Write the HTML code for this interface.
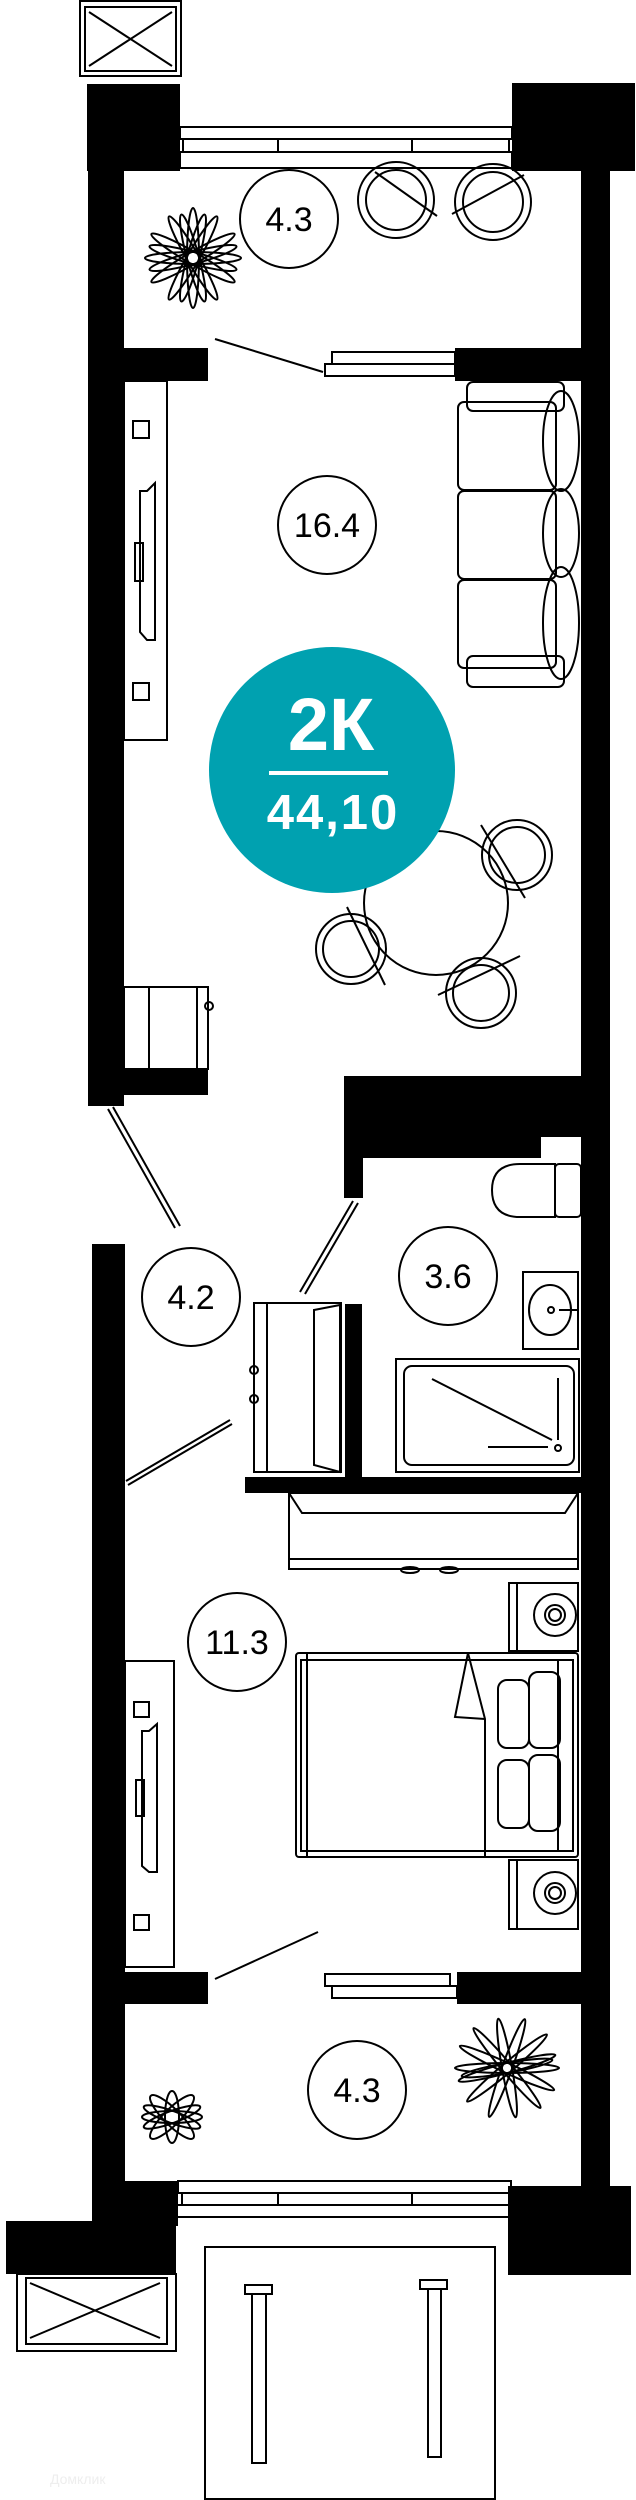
<!DOCTYPE html>
<html><head><meta charset="utf-8"><style>
html,body{margin:0;padding:0;background:#fff;}
svg{display:block;}
</style></head><body>
<svg width="636" height="2500" viewBox="0 0 636 2500" xmlns="http://www.w3.org/2000/svg">
<g fill="#000">
<rect x="87" y="84" width="93" height="87"/>
<rect x="88" y="84" width="36" height="1022"/>
<rect x="124" y="1069" width="84" height="26"/>
<rect x="512" y="83" width="123" height="88"/>
<rect x="581" y="83" width="29" height="2103"/>
<rect x="124" y="348" width="84" height="33"/>
<rect x="455" y="348" width="126" height="33"/>
<rect x="344" y="1076" width="237" height="61"/>
<rect x="344" y="1137" width="197" height="21"/>
<rect x="344" y="1158" width="19" height="40"/>
<rect x="345" y="1304" width="17" height="173"/>
<rect x="245" y="1477" width="336" height="16"/>
<rect x="92" y="1244" width="33" height="977"/>
<rect x="125" y="1972" width="83" height="32"/>
<rect x="457" y="1972" width="125" height="32"/>
<rect x="95" y="2181" width="83" height="45"/>
<rect x="6" y="2221" width="170" height="53"/>
<rect x="508" y="2186" width="123" height="89"/>
</g>
<g fill="none" stroke="#000" stroke-width="2">
<rect x="80" y="1" width="101" height="75"/>
<rect x="85" y="7" width="91" height="64"/>
<line x1="89" y1="12" x2="172" y2="66"/><line x1="172" y1="12" x2="89" y2="66"/>
<rect x="180" y="127" width="332" height="12"/>
<rect x="183" y="139" width="326" height="13"/>
<rect x="180" y="152" width="332" height="16"/>
<line x1="278" y1="139" x2="278" y2="152"/><line x1="412" y1="139" x2="412" y2="152"/>
<rect x="332" y="352" width="123" height="12"/>
<rect x="325" y="364" width="130" height="12"/>
<line x1="215" y1="339" x2="323" y2="372"/>
<circle cx="289" cy="219" r="49"/>
<circle cx="396" cy="200" r="38"/><circle cx="396" cy="200" r="30"/>
<line x1="375" y1="172" x2="437" y2="216"/>
<circle cx="493" cy="202" r="38"/><circle cx="493" cy="202" r="30"/>
<line x1="452" y1="214" x2="524" y2="175"/>
<g transform="translate(193,258)">
<ellipse rx="48" ry="6"/><ellipse rx="48" ry="6" transform="rotate(30)"/><ellipse rx="48" ry="6" transform="rotate(60)"/><ellipse rx="50" ry="6" transform="rotate(90)"/><ellipse rx="48" ry="6" transform="rotate(120)"/><ellipse rx="48" ry="6" transform="rotate(150)"/><ellipse rx="45" ry="6" transform="rotate(15)"/><ellipse rx="45" ry="6" transform="rotate(-15)"/><ellipse rx="45" ry="6" transform="rotate(75)"/><ellipse rx="45" ry="6" transform="rotate(105)"/>
</g>
<rect x="124" y="381" width="43" height="359"/>
<rect x="133" y="421" width="16" height="17"/>
<rect x="133" y="683" width="16" height="17"/>
<path d="M147 491 L155 483 L155 640 L147 640 L140 632 L140 491 Z"/>
<rect x="135" y="543" width="8" height="38"/>
<circle cx="327" cy="525" r="49"/>
<rect x="467" y="382" width="97" height="29" rx="6"/>
<rect x="467" y="656" width="97" height="31" rx="6"/>
<rect x="458" y="402" width="98" height="88" rx="6"/>
<rect x="458" y="491" width="98" height="88" rx="6"/>
<rect x="458" y="580" width="98" height="88" rx="6"/>
<ellipse cx="561" cy="441" rx="18" ry="50"/>
<ellipse cx="561" cy="533" rx="18" ry="44"/>
<ellipse cx="561" cy="623" rx="18" ry="56"/>
<circle cx="436" cy="903" r="72"/>
<circle cx="517" cy="855" r="35"/><circle cx="517" cy="855" r="28"/>
<line x1="481" y1="825" x2="525" y2="898"/>
<circle cx="351" cy="949" r="35"/><circle cx="351" cy="949" r="28"/>
<line x1="347" y1="907" x2="385" y2="985"/>
<circle cx="481" cy="993" r="35"/><circle cx="481" cy="993" r="28"/>
<line x1="438" y1="995" x2="520" y2="956"/>
<rect x="124" y="987" width="84" height="82"/>
<line x1="149" y1="987" x2="149" y2="1069"/><line x1="197" y1="987" x2="197" y2="1069"/>
<circle cx="209" cy="1006" r="4"/>
<line x1="108" y1="1109" x2="175" y2="1228"/><line x1="113" y1="1107" x2="180" y2="1226"/>
<circle cx="191" cy="1297" r="49"/>
<line x1="353" y1="1201" x2="300" y2="1292"/><line x1="358" y1="1203" x2="305" y2="1294"/>
<path d="M555 1164 L520 1164 Q492 1164 492 1190 Q492 1217 520 1217 L555 1217 Z"/>
<rect x="555" y="1164" width="26" height="53" rx="4"/>
<circle cx="448" cy="1276" r="49"/>
<rect x="523" y="1272" width="55" height="77"/>
<ellipse cx="550" cy="1310" rx="21" ry="25"/>
<circle cx="551" cy="1310" r="3"/><line x1="559" y1="1310" x2="577" y2="1310"/>
<rect x="396" y="1359" width="183" height="113"/>
<rect x="404" y="1366" width="170" height="99" rx="8"/>
<line x1="432" y1="1379" x2="552" y2="1440"/>
<line x1="558" y1="1378" x2="558" y2="1440"/>
<line x1="488" y1="1447" x2="548" y2="1447"/>
<circle cx="558" cy="1448" r="3"/>
<rect x="254" y="1303" width="87" height="169"/>
<line x1="267" y1="1303" x2="267" y2="1472"/>
<path d="M314 1310 L340 1305 L340 1472 L314 1465 Z"/>
<circle cx="254" cy="1370" r="4"/><circle cx="254" cy="1399" r="4"/>
<line x1="126" y1="1481" x2="230" y2="1420"/><line x1="128" y1="1485" x2="232" y2="1424"/>
<rect x="289" y="1493" width="289" height="76"/>
<path d="M289 1493 L302 1513 L565 1513 L578 1493"/>
<line x1="289" y1="1559" x2="578" y2="1559"/>
<ellipse cx="410" cy="1570" rx="9" ry="3"/><ellipse cx="449" cy="1570" rx="9" ry="3"/>
<rect x="509" y="1583" width="69" height="68"/><line x1="517" y1="1583" x2="517" y2="1651"/>
<circle cx="555" cy="1615" r="21"/><circle cx="555" cy="1615" r="10"/><circle cx="555" cy="1615" r="6"/>
<rect x="509" y="1860" width="69" height="69"/><line x1="517" y1="1860" x2="517" y2="1929"/>
<circle cx="555" cy="1893" r="21"/><circle cx="555" cy="1893" r="10"/><circle cx="555" cy="1893" r="6"/>
<rect x="296" y="1653" width="282" height="204" rx="3"/>
<rect x="301" y="1660" width="272" height="191"/>
<line x1="307" y1="1653" x2="307" y2="1857"/>
<path d="M468 1653 L485 1719 L485 1857"/>
<path d="M468 1653 L455 1717 L485 1719"/>
<line x1="558" y1="1660" x2="558" y2="1851"/>
<rect x="498" y="1680" width="31" height="68" rx="9"/>
<rect x="529" y="1672" width="31" height="76" rx="9"/>
<rect x="498" y="1760" width="31" height="68" rx="9"/>
<rect x="529" y="1755" width="31" height="76" rx="9"/>
<circle cx="237" cy="1642" r="49"/>
<rect x="125" y="1661" width="49" height="306"/>
<rect x="134" y="1702" width="15" height="15"/>
<rect x="134" y="1915" width="15" height="15"/>
<path d="M149 1731 L157 1724 L157 1872 L149 1872 L142 1866 L142 1731 Z"/>
<rect x="136" y="1780" width="8" height="36"/>
<line x1="215" y1="1979" x2="318" y2="1932"/>
<rect x="325" y="1974" width="125" height="12"/>
<rect x="332" y="1986" width="125" height="12"/>
<circle cx="357" cy="2090" r="49"/>
<g transform="translate(507,2068)">
<ellipse rx="52" ry="5"/><ellipse rx="52" ry="5" transform="rotate(25)"/><ellipse rx="52" ry="5" transform="rotate(50)"/><ellipse rx="50" ry="5" transform="rotate(80)"/><ellipse rx="52" ry="5" transform="rotate(110)"/><ellipse rx="52" ry="5" transform="rotate(140)"/><ellipse rx="50" ry="5" transform="rotate(165)"/><ellipse rx="46" ry="5" transform="rotate(-10)"/>
</g>
<g transform="translate(172,2117)">
<ellipse rx="30" ry="6"/><ellipse rx="30" ry="8" transform="rotate(45)"/><ellipse rx="30" ry="8" transform="rotate(-45)"/><ellipse rx="26" ry="7" transform="rotate(90)"/><ellipse rx="30" ry="6" transform="rotate(20)"/><ellipse rx="30" ry="6" transform="rotate(-20)"/>
</g>
<rect x="178" y="2181" width="333" height="12"/>
<rect x="182" y="2193" width="329" height="12"/>
<rect x="176" y="2205" width="333" height="12"/>
<line x1="278" y1="2193" x2="278" y2="2205"/><line x1="412" y1="2193" x2="412" y2="2205"/>
<rect x="17" y="2274" width="159" height="77"/>
<rect x="26" y="2278" width="141" height="66"/>
<line x1="30" y1="2283" x2="160" y2="2338"/><line x1="160" y1="2283" x2="30" y2="2338"/>
<rect x="205" y="2247" width="290" height="252"/>
<rect x="245" y="2285" width="27" height="9"/><rect x="252" y="2294" width="14" height="169"/>
<rect x="420" y="2280" width="27" height="9"/><rect x="428" y="2289" width="13" height="168"/>
</g>
<g font-family="Liberation Sans, sans-serif" font-size="34" text-anchor="middle" fill="#000">
<text x="289" y="231">4.3</text>
<text x="327" y="537">16.4</text>
<text x="191" y="1309">4.2</text>
<text x="448" y="1288">3.6</text>
<text x="237" y="1654">11.3</text>
<text x="357" y="2102">4.3</text>
</g>
<circle cx="332" cy="770" r="123" fill="#00A1B0"/>
<text x="331" y="750" font-family="Liberation Sans, sans-serif" font-weight="bold" font-size="74" fill="#fff" text-anchor="middle">2К</text>
<rect x="269" y="771" width="119" height="4" fill="#fff"/>
<text x="333" y="829" font-family="Liberation Sans, sans-serif" font-weight="bold" font-size="49" letter-spacing="2" fill="#fff" text-anchor="middle">44,10</text>
<text x="50" y="2484" font-family="Liberation Sans, sans-serif" font-size="14" fill="#eee">Домклик</text>
</svg>
</body></html>
